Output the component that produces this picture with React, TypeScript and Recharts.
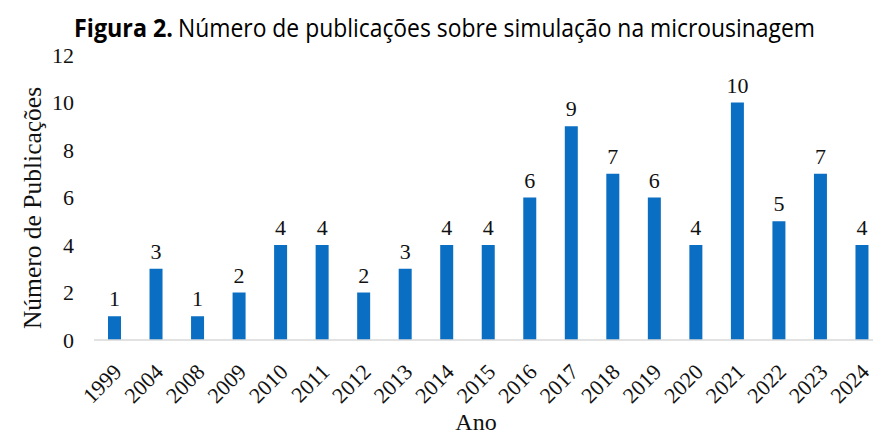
import React from 'react';
import { BarChart, Bar, XAxis, YAxis, LabelList, Label } from 'recharts';

const years = ['1999','2004','2008','2009','2010','2011','2012','2013','2014','2015','2016','2017','2018','2019','2020','2021','2022','2023','2024'];
const publications = [1,3,1,2,4,4,2,3,4,4,6,9,7,6,4,10,5,7,4];
const yTicks = [0,2,4,6,8,10,12];

const data = years.map((y, i) => ({ ano: y, valor: publications[i] }));

const serif = '"Liberation Serif", "Times New Roman", serif';
const sans = '"Open Sans", "Noto Sans", sans-serif';

const XTick = (props: any) => {
  const { x, y, payload } = props;
  const ax = x + 3;
  const ay = y + 20;
  return (
    <text
      x={ax}
      y={ay}
      transform={`rotate(-45, ${ax}, ${ay})`}
      textAnchor="end"
      fontFamily={serif}
      fontSize={22}
      fill="#111"
      dominantBaseline="central"
    >
      {payload.value}
    </text>
  );
};

const YTitle = () => (
  <text
    x={32}
    y={208}
    transform="rotate(-90, 32, 208)"
    textAnchor="middle"
    dominantBaseline="central"
    fontFamily={serif}
    fontSize={25.5}
    fill="#111"
  >
    Número de Publicações
  </text>
);

const XTitle = () => (
  <text x={476} y={430} textAnchor="middle" fontFamily={serif} fontSize={24} fill="#111">
    Ano
  </text>
);

export default function App() {
  return (
    <div style={{ position: 'absolute', left: 0, top: 0, width: 873, height: 436, overflow: 'hidden', background: '#fff' }}>
      <svg width={873} height={48} style={{ position: 'absolute', left: 0, top: 0 }}>
        <text x={74} y={37} fontFamily={sans} fontSize={25} fontWeight="bold" fill="#000" textLength={99} lengthAdjust="spacingAndGlyphs">
          Figura 2.
        </text>
        <text x={178} y={37} fontFamily={sans} fontSize={25} fill="#000" textLength={637} lengthAdjust="spacingAndGlyphs">
          Número de publicações sobre simulação na microusinagem
        </text>
      </svg>
      <div style={{ position: 'absolute', left: 0, top: 0 }}>
        <BarChart width={900} height={436} data={data} margin={{ top: 55, right: 17, left: 0, bottom: 0 }} barSize={13}>
          <XAxis
            dataKey="ano"
            axisLine={{ stroke: '#d9d9d9', strokeWidth: 1.5 }}
            tickLine={false}
            tick={<XTick />}
            height={96}
            interval={0}
          >
            <Label content={<XTitle />} />
          </XAxis>
          <YAxis
            domain={[0, 12]}
            ticks={yTicks}
            axisLine={false}
            tickLine={false}
            width={94}
            tick={{ fontFamily: serif, fontSize: 22, fill: '#111' }}
            tickMargin={14}
          >
            <Label content={<YTitle />} />
          </YAxis>
          <Bar dataKey="valor" fill="#0A6EC2" isAnimationActive={false}>
            <LabelList dataKey="valor" position="top" offset={10} style={{ fontFamily: serif, fontSize: 22, fill: '#111' }} />
          </Bar>
        </BarChart>
      </div>
    </div>
  );
}
